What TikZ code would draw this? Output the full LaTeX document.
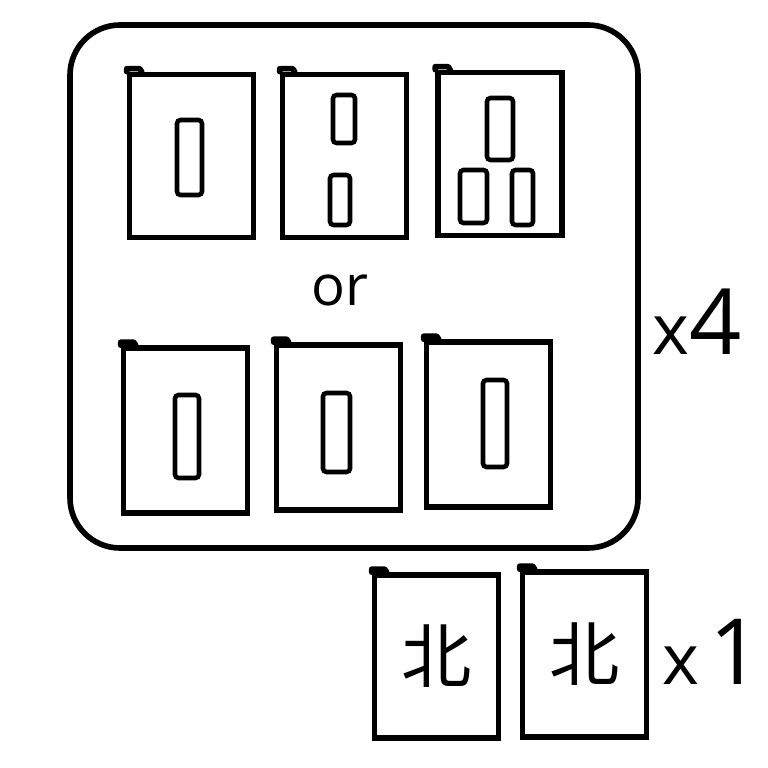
\documentclass[tikz,border=0pt]{standalone}
\usepackage{fontspec}
\setmainfont{Open Sans}
\newfontfamily\cjk{Noto Sans CJK SC}
\usepackage{tikz}
\usetikzlibrary{positioning}

\begin{document}
\begin{tikzpicture}[
        x=0.1mm, y=-0.1mm,
        panel/.style={rectangle, rounded corners=5mm, draw=black,
                      line width=1.6pt, minimum width=56.8mm,
                      minimum height=52.3mm, inner sep=0pt},
        card/.style={rectangle, draw=black, line width=1.6pt,
                     minimum width=12.4mm, minimum height=16.3mm,
                     inner sep=0pt},
        slot/.style={rectangle, rounded corners=1pt, draw=black,
                     line width=1.3pt, inner sep=0pt},
        hook/.style={line width=1.6pt, line cap=round, line join=round},
        count/.style={font=\fontsize{26}{26}\selectfont, inner sep=0pt},
        glyph/.style={font=\cjk\fontsize{20}{20}\selectfont, inner sep=0pt}
    ]
        \useasboundingbox (0,0) rectangle (768,768);

        % Outer panel, repeated four times
        \node[panel] (panel) at (354,286.5) {};

        % Row 1: one, two and three slots
        \node[card] (c1) at (191.5,156) {};
        \node[card] (c2) at (344.5,156) {};
        \node[card] (c3) at (500,154) {};
        \node[slot, minimum width=2.5mm, minimum height=7.5mm] (b1) at (189.5,157.5) {};
        \node[slot, minimum width=2.2mm, minimum height=4.8mm] (b2a) at (344,119) {};
        \node[slot, minimum width=2.0mm, minimum height=5.0mm] (b2b) at (340,200) {};
        \node[slot, minimum width=2.6mm, minimum height=6.2mm] (b3a) at (500,129) {};
        \node[slot, minimum width=2.7mm, minimum height=5.3mm] (b3b) at (473.5,196.5) {};
        \node[slot, minimum width=2.1mm, minimum height=5.5mm] (b3c) at (522.5,197.5) {};

        \node[font=\fontsize{16}{16}\selectfont] (or) at (340,290) {or};

        % Row 2: single slot in each card
        \node[card, minimum height=16.5mm] (c4) at (185.5,430.5) {};
        \node[card, minimum height=16.5mm] (c5) at (338.5,427.5) {};
        \node[card, minimum height=16.5mm] (c6) at (488.5,424.5) {};
        \node[slot, minimum width=2.4mm, minimum height=8.3mm] (b4) at (187,436.5) {};
        \node[slot, minimum width=2.7mm, minimum height=7.9mm] (b5) at (336.5,432.5) {};
        \node[slot, minimum width=2.4mm, minimum height=8.7mm] (b6) at (495,423.5) {};

        \node[count] (four) at (697,322) {{\fontsize{20}{20}\selectfont x}4};

        % Row 3: two cards with the character
        \node[card] (c7) at (436.5,656.5) {};
        \node[card, minimum height=16.5mm] (c8) at (584.5,654.5) {};
        \node[glyph] (g7) at (c7) {北};
        \node[glyph] (g8) at (c8) {北};

        \node[count] (one) at (712,652) {{\fontsize{20}{20}\selectfont x}\kern1mm 1};

        % pen hooks at the top-left corners
        \foreach \c in {c1,c2,c3,c4,c5,c6,c7,c8}
            \draw[hook] (\c.north west) -- ++(0,0.3mm) -- ++(1.3mm,0)
                -- ++(0.2mm,-0.3mm);
    \end{tikzpicture}
\end{document}
